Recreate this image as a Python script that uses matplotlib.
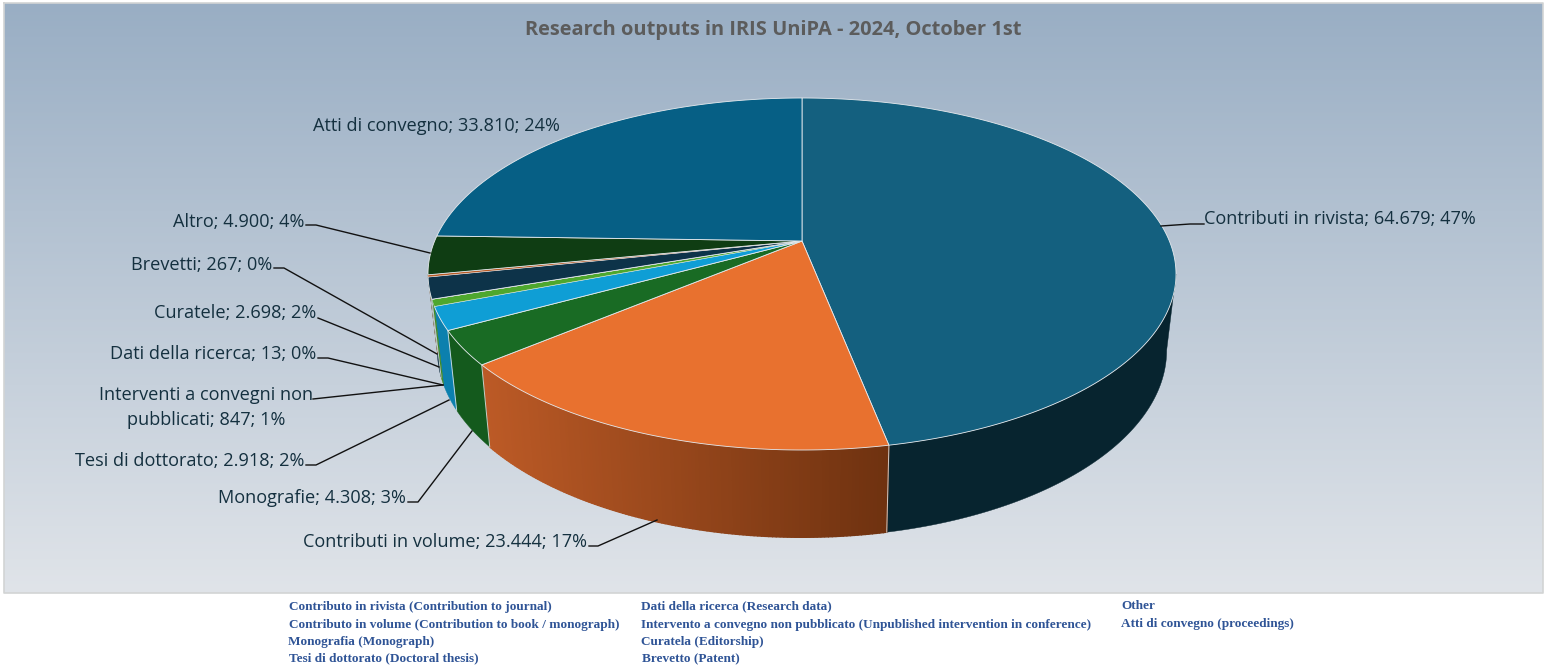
#!/usr/bin/env python3
"""
Research outputs in IRIS UniPA: pie chart in perspective with side wall
"""
import numpy as np
import matplotlib
matplotlib.use('Agg')
import matplotlib.pyplot as plt
from matplotlib.colors import to_rgb

# data (clockwise, starting from 12 o'clock)
names = ['Contributi in rivista', 'Contributi in volume', 'Monografie',
         'Tesi di dottorato', 'Interventi a convegni non\npubblicati',
         'Dati della ricerca', 'Curatele', 'Brevetti', 'Altro', 'Atti di convegno']
values = [64679, 23444, 4308, 2918, 847, 13, 2698, 267, 4900, 33810]
percents = [47, 17, 3, 2, 1, 0, 2, 0, 4, 24]

top_colors = ['#14607f', '#e8712f', '#196b24', '#0f9ed5', '#4ea72e',
              '#4ea72e', '#0d3349', '#b85a25', '#0f3d13', '#065f85']
wall_colors = ['#07242f', '#6f3210', '#145a1d', '#0c80ae', '#3f8a25',
               '#3f8a25', '#0a2a3c', '#8f4519', '#0b3010', '#054c6a']

legend_rows = [
    (289, 607, 'Contributo in rivista (Contribution to journal)'),
    (289, 625, 'Contributo in volume (Contribution to book / monograph)'),
    (288, 642, 'Monografia (Monograph)'),
    (289, 658, 'Tesi di dottorato (Doctoral thesis)'),
    (641, 606, 'Dati della ricerca (Research data)'),
    (641, 625, 'Intervento a convegno non pubblicato (Unpublished intervention in conference)'),
    (641, 642, 'Curatela (Editorship)'),
    (642, 659, 'Brevetto (Patent)'),
    (1121, 606, 'Other'),
    (1121, 624, 'Atti di convegno (proceedings)'),
]

# label anchors: alignment, x, centre y of the first line, leader polyline
label_layout = {
    0: ('left', 1204, 219, [(1204, 224), (1190, 224), (1161, 226)]),
    1: ('right', 587, 542, [(589, 546), (598, 546), (657, 520)]),
    2: ('right', 406, 498, [(408, 502), (418, 502), (472, 431)]),
    3: ('right', 304, 461, [(306, 465), (316, 465), (449, 400)]),
    4: ('center', 206, 395, [(313, 399), (443, 385)]),
    5: ('right', 316, 354, [(318, 358), (328, 358), (443, 385)]),
    6: ('right', 316, 313, [(318, 318), (328, 322), (439, 367)]),
    7: ('right', 272, 265, [(274, 268), (284, 268), (437, 354)]),
    8: ('right', 304, 222, [(306, 225), (316, 225), (430, 253)]),
    9: ('right', 560, 126, None),
}

# geometry of the perspective disc, in pixels
CX, CY = 802, 241
BACK, FRONT, HALF_W = 143.0, 209.0, 374.0
K = (FRONT - BACK) / (FRONT + BACK)
S = BACK * (1 + K)
R = HALF_W * np.sqrt(1 - K ** 2)


def project(t):
    """angle clockwise from 12 o'clock (radians) -> pixel point on the disc rim"""
    u, v = np.sin(t), np.cos(t)
    d = 1 + K * v
    return CX + R * u / d, CY - S * v / d


def drop(x, y):
    """rim point -> matching point on the bottom edge of the wall"""
    return CX + (x - CX) * 0.975, y + 87 + 0.0625 * (y - 445)


plt.rcParams['font.family'] = ['Open Sans', 'DejaVu Sans']

fig = plt.figure(figsize=(15.46, 6.68), dpi=100)
ax = fig.add_axes([0, 0, 1, 1])

# panel background
grad = np.linspace(0, 1, 256)[:, None, None]
c0, c1 = np.array(to_rgb('#99aec4')), np.array(to_rgb('#e0e4e9'))
ax.imshow(c0 + (c1 - c0) * grad, extent=(4, 1543, 593, 3), aspect='auto', zorder=0)
ax.set_xlim(0, 1546)
ax.set_ylim(668, 0)
ax.axis('off')
ax.plot([4, 1543, 1543, 4, 4], [3, 3, 593, 593, 3], color='#d2d4d4', lw=1.2, zorder=1)

fractions = np.array(values) / sum(values)
edges = np.concatenate([[0], np.cumsum(fractions)]) * 2 * np.pi
t_right = np.arccos(-K)
t_left = 2 * np.pi - t_right

# side wall, only the part that faces the viewer
for i in range(len(values)):
    a, b = max(edges[i], t_right), min(edges[i + 1], t_left)
    if b <= a:
        continue
    ts = np.linspace(a, b, max(3, int((b - a) * 120)))
    xs, ys = project(ts)
    xb, yb = drop(xs, ys)
    if i == 1:
        # the orange wall fades to brown from left to right, in bands
        for j in range(len(ts) - 1):
            f = np.clip((xs[j] - 482) / (888 - 482), 0, 1)
            col = tuple(np.array(to_rgb('#bc5a26')) * (1 - f) + np.array(to_rgb('#6f3210')) * f)
            ax.fill([xs[j], xs[j + 1], xb[j + 1], xb[j]], [ys[j], ys[j + 1], yb[j + 1], yb[j]],
                    facecolor=col, edgecolor=col, lw=1.0, zorder=2)
    else:
        ax.fill(np.r_[xs, xb[::-1]], np.r_[ys, yb[::-1]], facecolor=wall_colors[i],
                edgecolor=wall_colors[i], lw=0.3, zorder=2)
    if edges[i] > t_right and fractions[i] > 0.01:
        ax.plot([xs[0], xb[0]], [ys[0], yb[0]], color='#e8ecef', lw=0.7, alpha=0.8, zorder=3)

# top face
for i in range(len(values)):
    ts = np.linspace(edges[i], edges[i + 1], max(2, int((edges[i + 1] - edges[i]) * 180)))
    xs, ys = project(ts)
    ax.fill(np.r_[CX, xs], np.r_[CY, ys], facecolor=top_colors[i], edgecolor='#e6eaee',
            lw=0.6 if fractions[i] > 0.01 else 0.25, zorder=4)

# labels and leaders
for i, name in enumerate(names):
    ha, x, y, leader = label_layout[i]
    value = f'{values[i]:,}'.replace(',', '.')
    suffix = f'; {value}; {percents[i]}%'
    if '\n' in name:
        first, second = name.split('\n')
        ax.text(x, y, first, ha=ha, va='center', fontsize=13.1, color='#14303f', zorder=6)
        ax.text(x, y + 25, second + suffix, ha=ha, va='center', fontsize=13.1,
                color='#14303f', zorder=6)
    else:
        ax.text(x, y, name + suffix, ha=ha, va='center', fontsize=13.1, color='#14303f', zorder=6)
    if leader:
        ax.plot(*zip(*leader), color='#111111', lw=1.0, zorder=5)

ax.text(773, 30, 'Research outputs in IRIS UniPA - 2024, October 1st', ha='center', va='center',
        fontsize=14.4, fontweight='bold', color='#5c5c5c', zorder=6)

for x, y, text in legend_rows:
    ax.text(x, y, text, ha='left', va='center', fontsize=9.5, fontweight='bold',
            family='Liberation Serif', color='#2f5496', zorder=6)

plt.savefig('out.png', dpi=100)
plt.close()
